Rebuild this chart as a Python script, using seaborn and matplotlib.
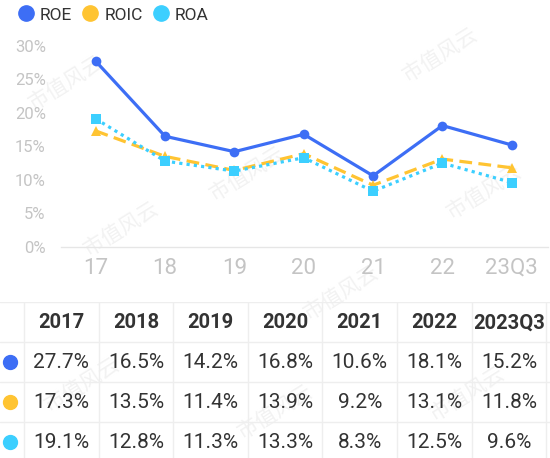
import numpy as np
import pandas as pd
import matplotlib
matplotlib.use('Agg')
import matplotlib.pyplot as plt
import seaborn as sns
from matplotlib.lines import Line2D

# Data
periods = ['17', '18', '19', '20', '21', '22', '23Q3']
headers = ['2017', '2018', '2019', '2020', '2021', '2022', '2023Q3']
roe = [27.7, 16.5, 14.2, 16.8, 10.6, 18.1, 15.2]
roic = [17.3, 13.5, 11.4, 13.9, 9.2, 13.1, 11.8]
roa = [19.1, 12.8, 11.3, 13.3, 8.3, 12.5, 9.6]
y_ticks = [0, 5, 10, 15, 20, 25, 30]

series = [
    ('ROE', roe, '#3d6ef5', '-', 'o', 7),
    ('ROIC', roic, '#ffc432', (0, (4, 2)), '^', 7),
    ('ROA', roa, '#3ccfff', (0, (1, 1.3)), 's', 7),
]

sns.set_theme(style='white')
plt.rcParams['font.family'] = ['Roboto', 'DejaVu Sans']

fig = plt.figure(figsize=(5.5, 4.58), dpi=100)

# faint watermark, kept behind everything
for (wx, wy) in [(0.12, 0.82), (0.45, 0.62), (0.8, 0.88), (0.22, 0.5), (0.62, 0.36),
                 (0.88, 0.58), (0.15, 0.16), (0.5, 0.1), (0.85, 0.14)]:
    fig.text(wx, wy, '市值风云', rotation=32, fontsize=15, color='#f2f2f2',
             family=['Noto Sans CJK SC', 'DejaVu Sans'], ha='center', va='center', zorder=-5)

ax = fig.add_axes([0.111, 0.461, 0.885, 0.439])
ax.patch.set_alpha(0)
x = np.arange(len(periods))
for name, vals, color, ls, mk, ms in series:
    sns.lineplot(x=x, y=vals, ax=ax, color=color, linestyle=ls, marker=mk,
                 markersize=ms, linewidth=2.3, markeredgewidth=0, label=name, legend=False)

ax.set_xlim(-0.5, 6.52)
ax.set_ylim(0, 30)
ax.set_yticks(y_ticks)
ax.set_yticklabels([f'{t}%' for t in y_ticks])
ax.set_xticks(x)
ax.set_xticklabels(periods)
ax.tick_params(axis='y', length=0, pad=11, labelsize=12, labelcolor='#c4c4c4')
ax.tick_params(axis='x', length=0, pad=8, labelsize=16, labelcolor='#c4c4c4')
for s in ['top', 'right', 'left']:
    ax.spines[s].set_visible(False)
ax.spines['bottom'].set_color('#e6e6e6')
ax.spines['bottom'].set_linewidth(1)
ax.grid(False)

# legend
handles = [Line2D([], [], linestyle='none', marker='o', markersize=11, color=c)
           for _, _, c, _, _, _ in series]
fig.legend(handles, [s[0] for s in series], loc='upper left', bbox_to_anchor=(0.0, 1.018),
           ncol=3, frameon=False, fontsize=12.5, handletextpad=0.2, columnspacing=0.45,
           handlelength=1.2, labelcolor='#333333')

# table
tab = fig.add_axes([0, 0, 1, 0.341])
tab.set_xlim(0, 550)
tab.set_ylim(156, 0)
tab.axis('off')
col_edges = [24 + 74.6 * i for i in range(8)]
row_edges = [0, 40, 80, 120, 160]
grid_c = '#eeeeee'
for cx in col_edges:
    tab.plot([cx, cx], [0, 160], color=grid_c, lw=1)
for ry in row_edges:
    tab.plot([0, 550], [ry, ry], color=grid_c, lw=1)

for i, h in enumerate(headers):
    cx = col_edges[i] + 74.6 / 2
    tab.text(cx, 21, h, ha='center', va='center', fontsize=14.5, fontweight='bold', color='#333333')

for r, (name, vals, color, _, _, _) in enumerate(series):
    cy = 60 + 40 * r
    tab.plot([10], [cy], marker='o', markersize=10, color=color, linestyle='none')
    for i, v in enumerate(vals):
        cx = col_edges[i] + 74.6 / 2
        tab.text(cx, cy + 1, f'{v:.1f}%', ha='center', va='center', fontsize=15, color='#333333')

fig.savefig('out.png', dpi=100)
